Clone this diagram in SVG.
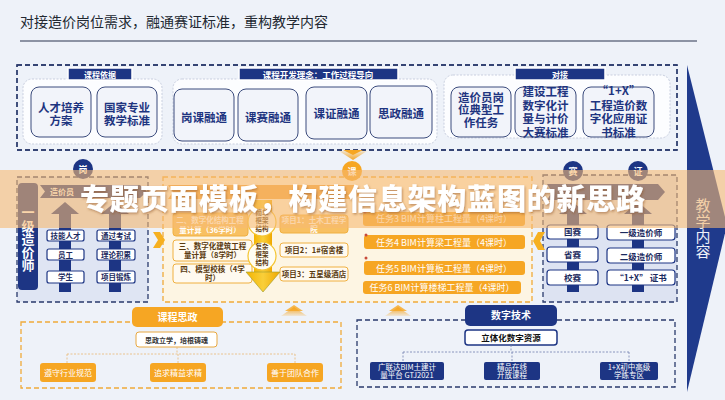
<svg xmlns="http://www.w3.org/2000/svg" width="725" height="400" viewBox="0 0 725 400">
<defs>
<style>
text{font-family:"Noto Sans CJK SC","Noto Sans",sans-serif;font-weight:700}
.card{fill:#f2f4fa;stroke:#3b4b7c;stroke-width:1}
.ct{font-size:11.5px;fill:#1e3480;text-anchor:middle}
.grp{fill:#fcfdff;stroke:#c9cfdf;stroke-width:1;stroke-dasharray:2 1.5}
.tab{fill:#1d3584;stroke:#fff;stroke-width:1.5}
.tabt{font-size:8px;fill:#fff;text-anchor:middle}
.navy{fill:#1d3584}
.wbox{fill:#fff;stroke:#1d3584;stroke-width:1.2}
.wt{fill:#1b2a5e;text-anchor:middle}
.obox{fill:#fffaf0;stroke:#f0b040;stroke-width:1}
.ofill{fill:#f6a623}
.ot{fill:#fff;text-anchor:middle}
.odk{fill:#5a3a10;text-anchor:middle}
.dn{fill:none;stroke:#2a3a6c;stroke-width:1.3;stroke-dasharray:5 3}
.do{fill:none;stroke:#f0aa3a;stroke-width:1.3;stroke-dasharray:5 3}
.circ{fill:#1d3584}
.circt{font-size:9px;fill:#fff;text-anchor:middle}
.cono{fill:none;stroke:#e9b873;stroke-width:0.8;stroke-dasharray:2 1.5}
.conn{fill:none;stroke:#6f7fae;stroke-width:0.8;stroke-dasharray:2 1.5}
</style>
<linearGradient id="chev" x1="0" y1="0" x2="0" y2="1">
<stop offset="0" stop-color="#f6a623"/>
<stop offset="1" stop-color="#f6a623" stop-opacity="0.15"/>
</linearGradient>
<linearGradient id="chevd" x1="0" y1="1" x2="0" y2="0">
<stop offset="0" stop-color="#f6a623"/>
<stop offset="1" stop-color="#f6a623" stop-opacity="0.2"/>
</linearGradient>
<linearGradient id="yarr" x1="0" y1="0" x2="1" y2="0">
<stop offset="0" stop-color="#f4b400"/>
<stop offset="0.5" stop-color="#f9cf3a"/>
<stop offset="1" stop-color="#f0a800"/>
</linearGradient>
<filter id="sh" x="-5%" y="-20%" width="110%" height="150%">
<feDropShadow dx="1" dy="1.5" stdDeviation="1.2" flood-color="#8a5020" flood-opacity="0.5"/>
</filter>
</defs>

<rect width="725" height="400" fill="#eef2f9"/>

<g id="header">
<text x="20" y="27" style="font-size:14px;font-weight:400;fill:#222831">对接造价岗位需求，融通赛证标准，重构教学内容</text>
<line x1="20" y1="41" x2="697" y2="41" stroke="#2a3550" stroke-width="1.2"/>
</g>

<g id="teaching-content">
<polygon points="687,65 727,225 687,392" fill="#1f3a8c"/>
<text x="703" y="211" style="font-size:15px;fill:#eef0f8;text-anchor:middle;font-weight:400">教</text>
<text x="703" y="227" style="font-size:15px;fill:#eef0f8;text-anchor:middle;font-weight:400">学</text>
<text x="703" y="242" style="font-size:15px;fill:#eef0f8;text-anchor:middle;font-weight:400">内</text>
<text x="703" y="257" style="font-size:15px;fill:#eef0f8;text-anchor:middle;font-weight:400">容</text>
</g>

<g id="top-section">
<rect x="17" y="65" width="660" height="85" fill="#d4dbeb" class="dn"/>
<rect x="17" y="65" width="660" height="85" class="dn"/>
</g>

<g id="course-basis">
<rect x="23" y="79" width="139" height="65" rx="9" class="grp"/>
<rect x="68" y="68" width="64" height="12" class="tab"/>
<text x="100" y="77.5" class="tabt">课程依据</text>
<rect x="31" y="87" width="60" height="50" rx="8" class="card"/>
<text x="61" y="112" class="ct">人才培养</text>
<text x="61" y="125" class="ct">方案</text>
<rect x="97" y="87" width="60" height="50" rx="8" class="card"/>
<text x="127" y="112" class="ct">国家专业</text>
<text x="127" y="125" class="ct">教学标准</text>
</g>

<g id="dev-concept">
<rect x="173" y="79" width="264" height="65" rx="9" class="grp"/>
<rect x="239" y="68" width="159" height="12" class="tab"/>
<text x="318" y="77.5" class="tabt" style="font-size:8.5px">课程开发理念：工作过程导向</text>
<rect x="174" y="89" width="60" height="52" rx="8" class="card"/>
<text x="204" y="122" class="ct">岗课融通</text>
<rect x="238" y="89" width="60" height="52" rx="8" class="card"/>
<text x="268" y="122" class="ct">课赛融通</text>
<rect x="306" y="87" width="61" height="52" rx="8" class="card"/>
<text x="336.5" y="118" class="ct">课证融通</text>
<rect x="370" y="86" width="62" height="52" rx="8" class="card"/>
<text x="401" y="118" class="ct">思政融通</text>
</g>

<g id="docking">
<rect x="444" y="75" width="226" height="63" rx="9" class="grp"/>
<rect x="515" y="68" width="90" height="12" class="tab"/>
<text x="560" y="77.5" class="tabt">对接</text>
<rect x="451" y="87" width="60" height="50" rx="8" class="card"/>
<text x="481" y="102" class="ct">造价员岗</text>
<text x="481" y="114" class="ct">位典型工</text>
<text x="481" y="127" class="ct">作任务</text>
<rect x="515" y="87" width="61" height="50" rx="8" class="card"/>
<text x="545.5" y="96" class="ct">建设工程</text>
<text x="545.5" y="110" class="ct">数字化计</text>
<text x="545.5" y="123" class="ct">量与计价</text>
<text x="545.5" y="136.5" class="ct">大赛标准</text>
<rect x="583" y="87" width="71" height="50" rx="8" class="card"/>
<text x="618.5" y="94.5" class="ct">“1+X”</text>
<text x="618.5" y="110" class="ct">工程造价数</text>
<text x="618.5" y="123" class="ct">字化应用证</text>
<text x="618.5" y="136.5" class="ct">书标准</text>
</g>

<g id="post-section">
<rect x="17" y="177" width="131" height="125" fill="#dfe5f3"/>
<rect x="17" y="177" width="131" height="125" class="dn"/>
<rect x="18" y="183" width="20" height="107" rx="4" class="navy"/>
<text x="28" y="217" style="font-size:13px;fill:#fff;text-anchor:middle">一</text>
<text x="28" y="231" style="font-size:13px;fill:#fff;text-anchor:middle">级</text>
<text x="28" y="244" style="font-size:13px;fill:#fff;text-anchor:middle">造</text>
<text x="28" y="257" style="font-size:13px;fill:#fff;text-anchor:middle">价</text>
<text x="28" y="270" style="font-size:13px;fill:#fff;text-anchor:middle">师</text>
<polygon points="40,185 140,185 147,191.5 140,198 40,198 45,191.5" class="navy"/>
<text x="62" y="194.5" style="font-size:8px;fill:#fff;text-anchor:middle">造价员</text>
<rect x="59" y="212" width="12" height="80" class="navy"/>
<polygon points="51,214 65,202 79,214" class="navy"/>
<rect x="109" y="212" width="12" height="80" class="navy"/>
<polygon points="101,214 115,202 129,214" class="navy"/>
<rect x="47" y="230" width="37" height="11" rx="2" class="wbox"/>
<text x="65.5" y="238.5" class="wt" style="font-size:7.5px">技能人才</text>
<rect x="47" y="249" width="37" height="11" rx="2" class="wbox"/>
<text x="65.5" y="257.5" class="wt" style="font-size:7.5px">员工</text>
<rect x="47" y="271" width="37" height="12" rx="2" class="wbox"/>
<text x="65.5" y="280" class="wt" style="font-size:7.5px">学生</text>
<rect x="97" y="230" width="38" height="11" rx="2" class="wbox"/>
<text x="116" y="238.5" class="wt" style="font-size:7.5px">通过考试</text>
<rect x="97" y="249" width="38" height="11" rx="2" class="wbox"/>
<text x="116" y="257.5" class="wt" style="font-size:7.5px">理论积累</text>
<rect x="97" y="271" width="38" height="12" rx="2" class="wbox"/>
<text x="116" y="280" class="wt" style="font-size:7.5px">项目锻炼</text>
<circle cx="83" cy="169" r="10" class="circ"/>
<text x="83" y="172.5" class="circt">岗</text>
</g>

<g id="course-section">
<rect x="163" y="177" width="369" height="125" fill="#fdf5e3"/>
<rect x="163" y="177" width="369" height="125" class="do"/>
<polygon points="168,185 355,185 362,192 355,199 168,199 173,192" fill="#f3a640"/>
<rect x="173" y="213" width="75" height="23" rx="3" fill="#f8c062" stroke="#f0b040"/>
<text x="210" y="223" class="odk" style="font-size:7.5px;fill:#fff">二、数字化结构工程</text>
<text x="210" y="233" class="odk" style="font-size:7.5px;fill:#fff">量计算（36学时）</text>
<rect x="173" y="240" width="79" height="21" rx="3" class="obox"/>
<text x="212.5" y="248.5" class="odk" style="font-size:7.5px">三、数字化建筑工程</text>
<text x="212.5" y="258" class="odk" style="font-size:7.5px">量计算（8学时）</text>
<rect x="173" y="264" width="79" height="19" rx="3" class="obox"/>
<text x="212.5" y="271.5" class="odk" style="font-size:7.5px">四、模型校核（4学</text>
<text x="212.5" y="280.5" class="odk" style="font-size:7.5px">时）</text>
<rect x="280" y="215" width="68" height="18" rx="3" fill="#f8c062" stroke="#f0b040"/>
<text x="314" y="223" class="odk" style="font-size:7.5px;fill:#fff">项目1：土木工程学</text>
<text x="314" y="231.5" class="odk" style="font-size:7.5px;fill:#fff">院</text>
<rect x="280" y="243" width="68" height="14" rx="3" class="obox"/>
<text x="314" y="253" class="odk" style="font-size:7.5px">项目2：1#宿舍楼</text>
<rect x="280" y="267" width="68" height="14" rx="3" class="obox"/>
<text x="314" y="277" class="odk" style="font-size:7.5px">项目3：五星级酒店</text>
<rect x="363" y="212" width="162" height="14" rx="3" class="ofill"/>
<text x="444" y="222" class="ot" style="font-size:9px;font-weight:400">任务3 BIM计算柱工程量（4课时）</text>
<rect x="364" y="235" width="161" height="14" rx="3" class="ofill"/>
<text x="444" y="245.5" class="ot" style="font-size:9px;font-weight:400">任务4 BIM计算梁工程量（4课时）</text>
<rect x="364" y="261" width="161" height="14" rx="3" class="ofill"/>
<text x="444" y="271.5" class="ot" style="font-size:9px;font-weight:400">任务5 BIM计算板工程量（4课时）</text>
<rect x="363" y="281" width="158" height="13" rx="3" class="ofill"/>
<text x="442" y="291" class="ot" style="font-size:9px;font-weight:400">任务6 BIM计算楼梯工程量（4课时）</text>
<circle cx="365" cy="212" r="1.5" fill="#c84a3a"/>
<circle cx="366" cy="235" r="1.5" fill="#c84a3a"/>
<circle cx="366" cy="258" r="1.5" fill="#c84a3a"/>
<circle cx="352" cy="171" r="10" fill="#f6a623"/>
<text x="352" y="174.5" class="circt">课</text>
</g>

<g id="contest-section">
<rect x="543" y="175" width="134" height="127" fill="#dde3f2"/>
<rect x="543" y="175" width="134" height="127" class="dn"/>
<polygon points="547,184 658,184 665,192 658,200 547,200 552,192" class="navy"/>
<rect x="567" y="212" width="12" height="80" class="navy"/>
<polygon points="559,214 573,202 587,214" class="navy"/>
<rect x="632" y="212" width="12" height="80" class="navy"/>
<polygon points="624,214 638,202 652,214" class="navy"/>
<rect x="547" y="225" width="51" height="14" rx="3" class="wbox"/>
<text x="572.5" y="235" class="wt" style="font-size:8.5px">国赛</text>
<rect x="547" y="247" width="51" height="15" rx="3" class="wbox"/>
<text x="572.5" y="257.5" class="wt" style="font-size:8.5px">省赛</text>
<rect x="547" y="270" width="51" height="15" rx="3" class="wbox"/>
<text x="572.5" y="280.5" class="wt" style="font-size:8.5px">校赛</text>
<rect x="607" y="225" width="68" height="15" rx="3" class="wbox"/>
<text x="641" y="235.5" class="wt" style="font-size:8.5px">一级造价师</text>
<rect x="607" y="248" width="68" height="15" rx="3" class="wbox"/>
<text x="641" y="260" class="wt" style="font-size:8.5px">二级造价师</text>
<rect x="607" y="270" width="68" height="15" rx="3" class="wbox"/>
<text x="641" y="280.5" class="wt" style="font-size:8.5px">“1+X” 证书</text>
<circle cx="573" cy="171" r="10" class="circ"/>
<text x="573" y="174.5" class="circt">赛</text>
<circle cx="638" cy="171" r="10" class="circ"/>
<text x="638" y="174.5" class="circt">证</text>
</g>

<g id="ideology-section">
<rect x="21" y="322" width="320" height="66" class="do"/>
<rect x="132" y="307" width="91" height="20" rx="5" class="ofill"/>
<text x="177.5" y="320.5" class="ot" style="font-size:10px">课程思政</text>
<rect x="136" y="332" width="81" height="15" rx="3" fill="#fff" stroke="#e8a840"/>
<text x="176.5" y="342.5" class="odk" style="font-size:7px;fill:#333">思政立学，培根铸魂</text>
<rect x="40" y="363" width="56" height="19" rx="3" class="ofill"/>
<text x="68" y="375.5" class="ot" style="font-size:8px;font-weight:400">遵守行业规范</text>
<rect x="150" y="363" width="56" height="19" rx="3" class="ofill"/>
<text x="178" y="375.5" class="ot" style="font-size:8px;font-weight:400">追求精益求精</text>
<rect x="267" y="363" width="56" height="19" rx="3" class="ofill"/>
<text x="295" y="375.5" class="ot" style="font-size:8px;font-weight:400">善于团队合作</text>
</g>

<g id="digital-section">
<rect x="357" y="320" width="318" height="67" class="dn"/>
<rect x="465" y="305" width="92" height="21" rx="5" class="navy"/>
<text x="511" y="319" class="ot" style="font-size:10px">数字技术</text>
<rect x="465" y="330" width="92" height="15" rx="3" fill="#fff" stroke="#1d3584" stroke-width="1.5"/>
<text x="511" y="341" class="wt" style="font-size:8.5px;fill:#111">立体化数字资源</text>
<rect x="370" y="362" width="74" height="18" rx="2" class="navy"/>
<text x="407" y="369.5" class="ot" style="font-size:7.5px;font-weight:400">广联达BIM土建计</text>
<text x="407" y="378" class="ot" style="font-size:7.5px;font-weight:400">量平台 GTJ2021</text>
<rect x="484" y="362" width="56" height="18" rx="2" class="navy"/>
<text x="512" y="369.5" class="ot" style="font-size:7.5px;font-weight:400">精品在线</text>
<text x="512" y="378" class="ot" style="font-size:7.5px;font-weight:400">开放课程</text>
<rect x="600" y="362" width="58" height="18" rx="2" class="navy"/>
<text x="629" y="369.5" class="ot" style="font-size:7.5px;font-weight:400">1+X初中高级</text>
<text x="629" y="378" class="ot" style="font-size:7.5px;font-weight:400">学练专区</text>
</g>

<g id="connectors">
<path class="cono" d="M177,347 V354 M67,354 H295 M67,354 V363 M178,354 V363 M295,354 V363"/>
<path class="conn" d="M511,345 V352 M403,352 H629 M403,352 V362 M512,352 V362 M629,352 V362"/>
<rect x="254" y="200" width="18" height="73" fill="url(#yarr)"/>
<polygon points="246,272 280,272 263,292" fill="url(#yarr)" stroke="#9a9a30" stroke-width="0.6"/>
<polygon points="153,232 160,232 165,240 160,248 153,248 158,240" fill="#f6b020"/>
<polygon points="545,232 538,232 533,241 538,250 545,250 540,241" fill="#f6b020"/>
<polygon points="339,151 367,151 353,160" fill="url(#chevd)"/>
<polygon points="343,150 363,150 353,155" fill="#f6a623"/>
<polygon points="281,316 294,307 307,316" fill="url(#chev)"/>
<polygon points="285,311 294,305 303,311" fill="#f6a623" opacity="0.8"/>
<polygon points="385,316 398,307 411,316" fill="url(#chev)"/>
<polygon points="389,311 398,305 407,311" fill="#f6a623" opacity="0.8"/>
</g>

<g id="stage-circles">
<circle cx="262" cy="222" r="14" fill="#fffdf3" stroke="#f4c430" stroke-width="1.2"/>
<text x="262" y="215" class="odk" style="font-size:6.5px">简单</text>
<text x="262" y="223" class="odk" style="font-size:6.5px">框架</text>
<text x="262" y="231" class="odk" style="font-size:6.5px">结构</text>
<circle cx="262" cy="256" r="14" fill="#fffdf3" stroke="#f4c430" stroke-width="1.2"/>
<text x="262" y="249" class="odk" style="font-size:6.5px">复杂</text>
<text x="262" y="257" class="odk" style="font-size:6.5px">框架</text>
<text x="262" y="265" class="odk" style="font-size:6.5px">结构</text>
</g>

<g id="banner">
<rect x="0" y="170" width="725" height="58" fill="rgb(246,185,113)" opacity="0.6"/>
<text x="80" y="210" textLength="565" filter="url(#sh)" style="font-size:29px;font-weight:900;fill:#fff">专题页面模板，构建信息架构蓝图的新思路</text>
</g>
</svg>
